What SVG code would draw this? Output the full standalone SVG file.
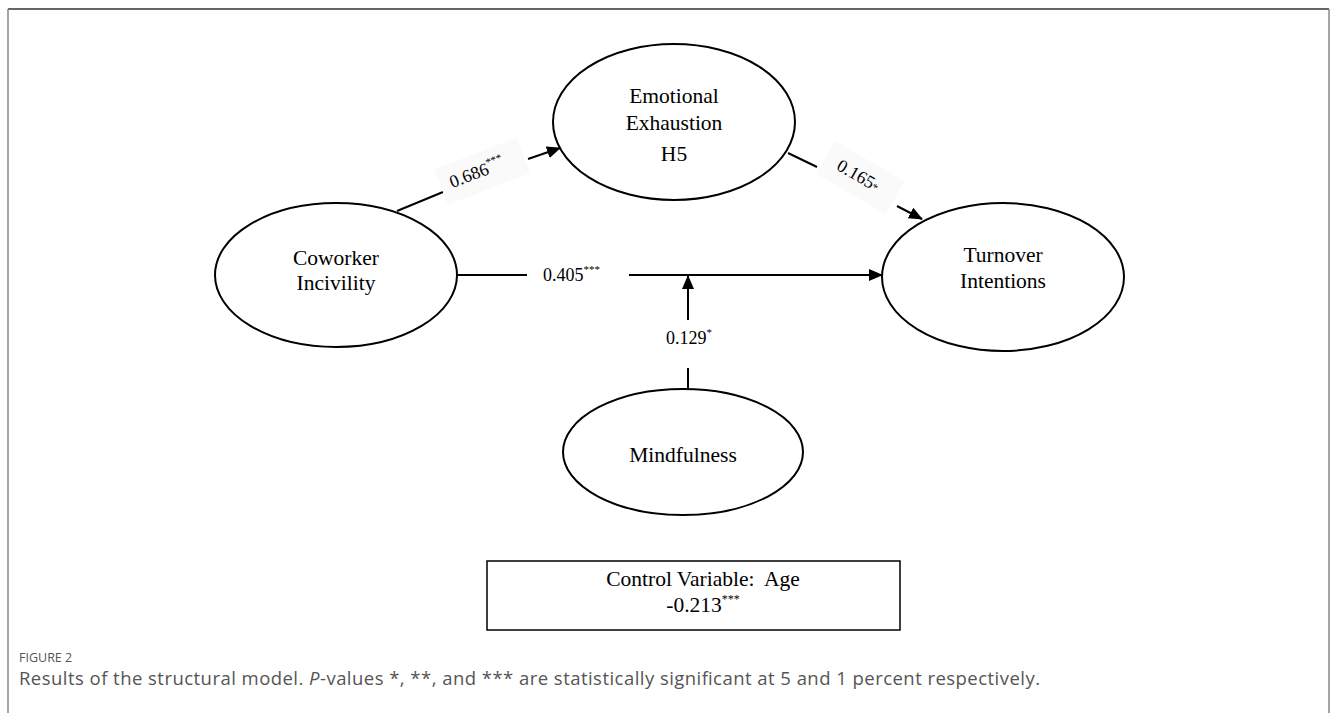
<svg xmlns="http://www.w3.org/2000/svg" width="1334" height="713" viewBox="0 0 1334 713">
<style>
.node{fill:#fff;stroke:#000;stroke-width:2}
.lbl{font-family:"Liberation Serif","Times New Roman",serif;font-size:21.5px;fill:#000;text-anchor:middle}
.num{font-family:"Liberation Serif","Times New Roman",serif;font-size:18px;fill:#000}
.sup{font-size:11px}
.edge{stroke:#000;stroke-width:2;fill:none}
.cap{font-family:"Open Sans","Liberation Sans",sans-serif;fill:#555}
</style>
<defs>
<marker id="ah2" markerWidth="14" markerHeight="12" refX="13" refY="6" orient="auto" markerUnits="userSpaceOnUse">
<path d="M0,0 L14,6 L0,12 Z" fill="#000"/>
</marker>
</defs>
<rect width="1334" height="713" fill="#fff"/>
<g id="frame">
<line x1="8" y1="9" x2="1329" y2="9" stroke="#333" stroke-width="1.5"/>
<line x1="8" y1="9" x2="8" y2="713" stroke="#888" stroke-width="1.5"/>
<line x1="1329" y1="9" x2="1329" y2="713" stroke="#888" stroke-width="1.5"/>
</g>
<g id="connectors">
<line class="edge" x1="397" y1="211" x2="443" y2="192"/>
<line class="edge" x1="528" y1="159" x2="560" y2="148" marker-end="url(#ah2)"/>
<line class="edge" x1="788" y1="153" x2="817" y2="167"/>
<line class="edge" x1="897" y1="206" x2="922" y2="219" marker-end="url(#ah2)"/>
<line class="edge" x1="457" y1="275" x2="527" y2="275"/>
<line class="edge" x1="629" y1="275" x2="882" y2="275" marker-end="url(#ah2)"/>
<line class="edge" x1="688" y1="320" x2="688" y2="276" marker-end="url(#ah2)"/>
<line class="edge" x1="688" y1="368" x2="688" y2="389"/>
</g>
<g id="labels">
<g transform="translate(484,176) rotate(-21)">
<rect x="-44" y="-24" width="88" height="38" fill="#fafafa"/>
<text class="num" x="-34" y="0">0.686<tspan class="sup" dy="-8">***</tspan></text>
</g>
<g transform="translate(858,182) rotate(30)">
<rect x="-40" y="-24" width="80" height="38" fill="#fafafa"/>
<text class="num" x="-26" y="0">0.165<tspan class="sup" dy="0">*</tspan></text>
</g>
<text class="num" x="543" y="281">0.405<tspan class="sup" dy="-8">***</tspan></text>
<text class="num" x="666" y="344">0.129<tspan class="sup" dy="-8">*</tspan></text>
</g>
<g id="emotional-exhaustion">
<ellipse class="node" cx="674" cy="122" rx="121" ry="78"/>
<text class="lbl" x="674" y="103">Emotional</text>
<text class="lbl" x="674" y="130">Exhaustion</text>
<text class="lbl" x="674" y="161">H5</text>
</g>
<g id="coworker-incivility">
<ellipse class="node" cx="336" cy="275" rx="121" ry="72"/>
<text class="lbl" x="336" y="265">Coworker</text>
<text class="lbl" x="336" y="290">Incivility</text>
</g>
<g id="turnover-intentions">
<ellipse class="node" cx="1003" cy="277" rx="121" ry="74"/>
<text class="lbl" x="1003" y="262">Turnover</text>
<text class="lbl" x="1003" y="288">Intentions</text>
</g>
<g id="mindfulness">
<ellipse class="node" cx="683" cy="452" rx="120" ry="63"/>
<text class="lbl" x="683" y="462">Mindfulness</text>
</g>
<g id="control-variable">
<rect x="487" y="561" width="413" height="69" fill="#fff" stroke="#000" stroke-width="1.5"/>
<text class="lbl" x="703" y="586" xml:space="preserve">Control Variable:  Age</text>
<text class="lbl" x="703" y="612">-0.213<tspan font-size="12px" dy="-9">***</tspan></text>
</g>
<g id="caption">
<text class="cap" x="19" y="662" font-size="12.5px">FIGURE 2</text>
<text class="cap" x="19" y="685" font-size="18.5px" textLength="1021" lengthAdjust="spacing">Results of the structural model. <tspan font-style="italic">P</tspan>-values *, **, and *** are statistically significant at 5 and 1 percent respectively.</text>
</g>
</svg>
